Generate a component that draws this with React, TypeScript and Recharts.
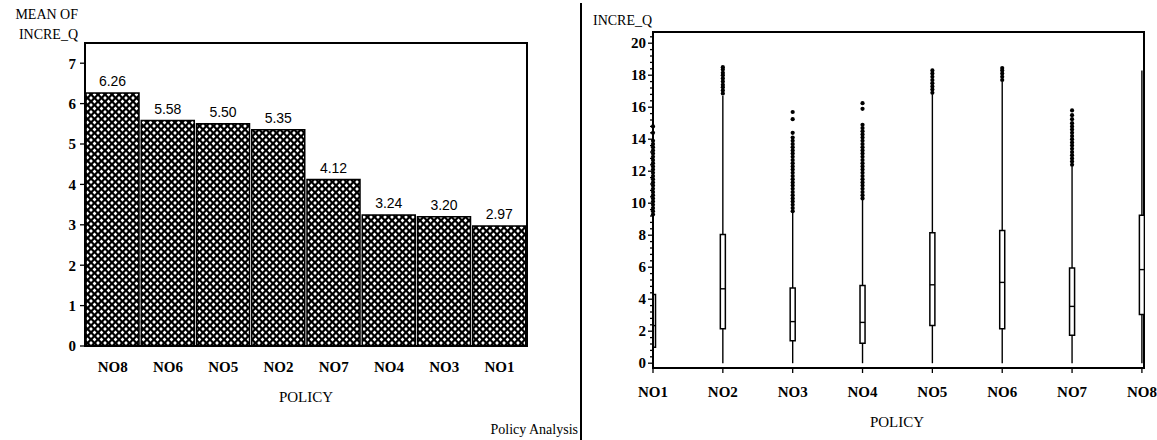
import React from 'react';
import {
  BarChart,
  Bar,
  XAxis,
  YAxis,
  LabelList,
  ReferenceArea,
  ReferenceLine,
  ComposedChart,
  Scatter,
} from 'recharts';

// ---------- Left chart: mean of INCRE_Q by policy ----------
const meanPolicies = ['NO8', 'NO6', 'NO5', 'NO2', 'NO7', 'NO4', 'NO3', 'NO1'];
const meanValues = [6.26, 5.58, 5.5, 5.35, 4.12, 3.24, 3.2, 2.97];
const meanTicks = [0, 1, 2, 3, 4, 5, 6, 7];

// ---------- Right chart: box plots of INCRE_Q by policy ----------
const boxPolicies = ['NO1', 'NO2', 'NO3', 'NO4', 'NO5', 'NO6', 'NO7', 'NO8'];
const boxMin = [0, 0, 0, 0, 0, 0, 0, 0];
const boxQ1 = [1.0, 2.15, 1.4, 1.25, 2.35, 2.15, 1.75, 3.05];
const boxMedian = [2.35, 4.65, 2.6, 2.55, 4.9, 5.05, 3.55, 5.85];
const boxQ3 = [4.3, 8.05, 4.7, 4.85, 8.15, 8.3, 5.95, 9.25];
const boxWhiskerTop = [9.2, 16.7, 9.4, 10.2, 16.8, 17.6, 12.3, 18.3];

const outliersNO1 = [9.3, 9.5, 9.7, 9.9, 10.1, 10.3, 10.5, 10.7, 10.9, 11.1, 11.3, 11.5, 11.7, 11.9, 12.1, 12.3, 12.5, 12.7, 12.9, 13.1, 13.3, 13.5, 13.7, 13.9, 14.4, 14.8];
const outliersNO2 = [16.85, 17.05, 17.25, 17.4, 17.6, 17.8, 18.0, 18.15, 18.35, 18.5];
const outliersNO3 = [9.5, 9.7, 9.9, 10.1, 10.3, 10.5, 10.7, 10.9, 11.1, 11.3, 11.5, 11.7, 11.9, 12.1, 12.3, 12.5, 12.7, 12.9, 13.1, 13.3, 13.5, 13.7, 13.9, 14.1, 14.4, 15.25, 15.7];
const outliersNO4 = [10.3, 10.5, 10.7, 10.9, 11.1, 11.3, 11.5, 11.7, 11.9, 12.1, 12.3, 12.5, 12.7, 12.9, 13.1, 13.3, 13.5, 13.7, 13.9, 14.1, 14.3, 14.5, 14.7, 14.9, 15.9, 16.25];
const outliersNO5 = [16.9, 17.1, 17.3, 17.5, 17.7, 17.9, 18.1, 18.3];
const outliersNO6 = [17.7, 17.9, 18.1, 18.3, 18.45];
const outliersNO7 = [12.4, 12.6, 12.8, 13.0, 13.2, 13.4, 13.6, 13.8, 14.0, 14.2, 14.4, 14.6, 14.8, 15.0, 15.25, 15.5, 15.8];
const outliersNO8: number[] = [];
const boxOutliers = [outliersNO1, outliersNO2, outliersNO3, outliersNO4, outliersNO5, outliersNO6, outliersNO7, outliersNO8];

const boxMajorTicks = [0, 2, 4, 6, 8, 10, 12, 14, 16, 18, 20];

// ---------- derived tables ----------
const barData = meanPolicies.map((p, i) => ({ policy: p, mean: meanValues[i] }));
const boxPositions = boxPolicies.map((_, i) => i + 1);
const outlierData = boxOutliers.flatMap((arr, i) => arr.map((y) => ({ x: boxPositions[i], y })));
const boxYTicks: number[] = [];
for (let k = 0; k <= 51; k++) boxYTicks.push(Math.round(k * 4) / 10);

const SERIF = '"Liberation Serif", "DejaVu Serif", serif';
const SANS = '"Liberation Sans", Arial, sans-serif';
const BOX_HALF = 0.036;
const Y_MIN = -0.3;
const Y_MAX = 20.7;
const X_MAX = 8.03;

const BoxYTick = (props: any) => {
  const { x, y, payload } = props;
  const axisX = x + 6;
  const v = payload.value as number;
  const major = boxMajorTicks.some((t) => Math.abs(t - v) < 1e-6);
  return (
    <g>
      <line x1={axisX - (major ? 5 : 3)} x2={axisX} y1={y} y2={y} stroke="#000" strokeWidth={1.3} />
      {major && (
        <text x={axisX - 7} y={y} dy="0.35em" textAnchor="end" fill="#000" fontSize={15} fontWeight="bold" fontFamily={SERIF}>
          {Math.round(v)}
        </text>
      )}
    </g>
  );
};

const Dot = (props: any) => <circle cx={props.cx} cy={props.cy} r={2.1} fill="#000" />;

const txt = (style: React.CSSProperties): React.CSSProperties => ({
  position: 'absolute',
  fontFamily: SERIF,
  color: '#000',
  whiteSpace: 'nowrap',
  lineHeight: '16px',
  ...style,
});

export default function App() {
  return (
    <div style={{ position: 'absolute', left: 0, top: 0, width: 1157, height: 440, background: '#fff', overflow: 'hidden' }}>
      {/* Left chart */}
      <div style={{ position: 'absolute', left: 0, top: 0 }}>
        <BarChart
          width={560}
          height={440}
          data={barData}
          margin={{ top: 43, right: 33, bottom: 64, left: 45 }}
          barCategoryGap={1}
        >
          <defs>
            <pattern id="xhatch" width="7" height="7" patternUnits="userSpaceOnUse">
              <rect width="7" height="7" fill="#000" />
              <polygon points="3.5,1.6 5.4,3.5 3.5,5.4 1.6,3.5" fill="#fff" />
              <polygon points="0,-1.9 1.9,0 0,1.9 -1.9,0" fill="#fff" />
              <polygon points="7,-1.9 8.9,0 7,1.9 5.1,0" fill="#fff" />
              <polygon points="0,5.1 1.9,7 0,8.9 -1.9,7" fill="#fff" />
              <polygon points="7,5.1 8.9,7 7,8.9 5.1,7" fill="#fff" />
            </pattern>
          </defs>
          <XAxis
            dataKey="policy"
            interval={0}
            tickLine={false}
            tickSize={0}
            tickMargin={15}
            height={30}
            axisLine={{ stroke: '#000', strokeWidth: 2 }}
            tick={{ fill: '#000', fontSize: 15, fontWeight: 'bold', fontFamily: SERIF }}
          />
          <YAxis
            type="number"
            domain={[0, 7.5]}
            allowDataOverflow
            ticks={meanTicks}
            interval={0}
            width={40}
            tickSize={5}
            tickMargin={4}
            axisLine={{ stroke: '#000', strokeWidth: 2 }}
            tickLine={{ stroke: '#000', strokeWidth: 1.3 }}
            tick={{ fill: '#000', fontSize: 15, fontWeight: 'bold', fontFamily: SERIF }}
          />
          <ReferenceArea y1={0} y2={7.5} fill="none" stroke="#000" strokeWidth={2} fillOpacity={0} ifOverflow="visible" />
          <Bar dataKey="mean" fill="url(#xhatch)" stroke="#000" strokeWidth={1.5} isAnimationActive={false}>
            <LabelList
              dataKey="mean"
              position="top"
              offset={7}
              formatter={(v: any) => Number(v).toFixed(2)}
              style={{ fill: '#000', fontSize: 14, fontFamily: SANS }}
            />
          </Bar>
        </BarChart>
      </div>

      <div style={txt({ right: 1157 - 78, top: 7, fontSize: 14, textAlign: 'right' })}>MEAN OF</div>
      <div style={txt({ right: 1157 - 78, top: 27, fontSize: 14, textAlign: 'right' })}>INCRE_Q</div>
      <div style={txt({ left: 306, top: 397, fontSize: 15, transform: 'translate(-50%, -50%)' })}>POLICY</div>
      <div style={txt({ right: 1157 - 578, top: 422, fontSize: 14, textAlign: 'right' })}>Policy Analysis</div>
      <div style={{ position: 'absolute', left: 580, top: 3, width: 1.5, height: 437, background: '#000' }} />

      {/* Right chart */}
      <div style={{ position: 'absolute', left: 582, top: 0 }}>
        <ComposedChart width={575} height={440} margin={{ top: 32, right: 13, bottom: 42, left: 31 }}>
          <XAxis
            type="number"
            dataKey="x"
            domain={[1, X_MAX]}
            ticks={boxPositions}
            interval={0}
            tickFormatter={(v: any) => boxPolicies[Math.round(v) - 1]}
            height={30}
            tickSize={5}
            tickMargin={13}
            axisLine={{ stroke: '#000', strokeWidth: 2 }}
            tickLine={{ stroke: '#000', strokeWidth: 1.3 }}
            tick={{ fill: '#000', fontSize: 15, fontWeight: 'bold', fontFamily: SERIF }}
          />
          <YAxis
            type="number"
            dataKey="y"
            domain={[Y_MIN, Y_MAX]}
            ticks={boxYTicks}
            interval={0}
            width={40}
            tickLine={false}
            tickSize={0}
            tickMargin={6}
            axisLine={{ stroke: '#000', strokeWidth: 2 }}
            tick={(p: any) => <BoxYTick {...p} />}
          />
          <ReferenceArea
            x1={1}
            x2={X_MAX}
            y1={Y_MIN}
            y2={Y_MAX}
            fill="none"
            fillOpacity={0}
            stroke="#000"
            strokeWidth={2}
            ifOverflow="visible"
          />
          {boxPositions.map((x, i) => (
            <ReferenceLine
              key={`lw${i}`}
              segment={[{ x, y: boxMin[i] }, { x, y: boxQ1[i] }]}
              stroke="#000"
              strokeWidth={1.4}
              ifOverflow="visible"
            />
          ))}
          {boxPositions.map((x, i) => (
            <ReferenceLine
              key={`uw${i}`}
              segment={[{ x, y: boxQ3[i] }, { x, y: boxWhiskerTop[i] }]}
              stroke="#000"
              strokeWidth={1.4}
              ifOverflow="visible"
            />
          ))}
          {boxPositions.map((x, i) => (
            <ReferenceArea
              key={`bx${i}`}
              x1={x - BOX_HALF}
              x2={x + BOX_HALF}
              y1={boxQ1[i]}
              y2={boxQ3[i]}
              fill="#fff"
              fillOpacity={1}
              stroke="#000"
              strokeWidth={1.5}
              ifOverflow="hidden"
            />
          ))}
          {boxPositions.map((x, i) => (
            <ReferenceLine
              key={`md${i}`}
              segment={[{ x: x - BOX_HALF, y: boxMedian[i] }, { x: x + BOX_HALF, y: boxMedian[i] }]}
              stroke="#000"
              strokeWidth={1.4}
              ifOverflow="hidden"
            />
          ))}
          <Scatter data={outlierData} dataKey="y" shape={(p: any) => <Dot {...p} />} isAnimationActive={false} />
        </ComposedChart>
      </div>

      <div style={txt({ left: 593, top: 13, fontSize: 14 })}>INCRE_Q</div>
      <div style={txt({ left: 897, top: 422, fontSize: 15, transform: 'translate(-50%, -50%)' })}>POLICY</div>
    </div>
  );
}
